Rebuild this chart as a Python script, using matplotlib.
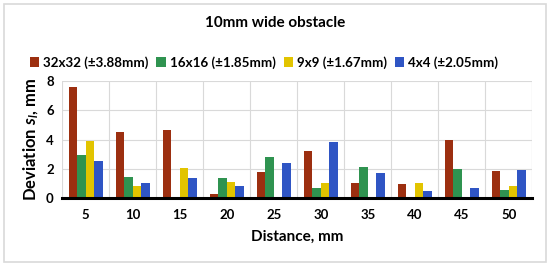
import numpy as np
import matplotlib
matplotlib.use("Agg")
import matplotlib.pyplot as plt
from matplotlib.patches import FancyBboxPatch

plt.rcParams['font.family'] = ['Lato', 'DejaVu Sans']
plt.rcParams['mathtext.fontset'] = 'custom'
plt.rcParams['mathtext.it'] = 'Lato:italic:bold'
plt.rcParams['mathtext.rm'] = 'Lato:bold'

distances = ["5", "10", "15", "20", "25", "30", "35", "40", "45", "50"]
series_names = ["32x32 (±3.88mm)", "16x16 (±1.85mm)", "9x9 (±1.67mm)", "4x4 (±2.05mm)"]
s32 = [7.59, 4.52, 4.69, 0.26, 1.76, 3.20, 1.07, 0.97, 3.99, 1.86]
s16 = [2.92, 1.48, 0.00, 1.37, 2.81, 0.67, 2.13, 0.00, 2.02, 0.56]
s9 = [3.90, 0.86, 2.06, 1.09, 0.00, 1.07, 0.00, 1.07, 0.00, 0.84]
s4 = [2.53, 1.02, 1.39, 0.81, 2.37, 3.85, 1.69, 0.49, 0.67, 1.93]
colors = ["#9C2F10", "#2F9350", "#E2C400", "#2F55C4"]

fig = plt.figure(figsize=(5.5, 2.66), dpi=100)
# light border box like the original export
fig.patches.append(FancyBboxPatch((0.008, 0.015), 0.984, 0.97, boxstyle="square,pad=0",
                                  transform=fig.transFigure, fill=False,
                                  edgecolor="#d9d9d9", linewidth=1.2))

ax = fig.add_axes([0.113, 0.255, 0.855, 0.44])
x = np.arange(len(distances))
w = 0.18
for i, (vals, name) in enumerate(zip([s32, s16, s9, s4], series_names)):
    ax.bar(x + (i - 1.5) * w, vals, w, color=colors[i], label=name, zorder=3)

ax.set_xlim(-0.5, len(distances) - 0.5)
ax.set_ylim(0, 8)
ax.set_yticks([0, 2, 4, 6, 8])
ax.set_xticks(x)
ax.set_xticklabels(distances)
ax.set_xticks(np.arange(-0.5, len(distances), 1), minor=True)
ax.tick_params(axis='x', which='both', length=0, pad=8)
ax.tick_params(axis='y', length=0, pad=6)
for lbl in ax.get_xticklabels() + ax.get_yticklabels():
    lbl.set_fontweight('bold')
    lbl.set_fontsize(9.5)
ax.grid(True, axis='y', color="#d9d9d9", linewidth=0.8, zorder=0)
ax.grid(True, axis='x', which='minor', color="#d9d9d9", linewidth=0.8, zorder=0)
ax.grid(False, axis='x', which='major')
for s in ['top', 'right', 'left']:
    ax.spines[s].set_visible(False)
ax.spines['bottom'].set_linewidth(2.2)
ax.spines['bottom'].set_zorder(4)
ax.axvline(len(distances) - 0.5, color="#d9d9d9", linewidth=0.8, zorder=0)

ax.set_ylabel("Deviation $s_l$, mm", fontsize=12, fontweight='bold', labelpad=4)
ax.set_xlabel("Distance, mm", fontsize=11, fontweight='bold', labelpad=6)

fig.text(0.5, 0.915, "10mm wide obstacle", ha='center', va='center', fontsize=11, fontweight='bold')
leg = fig.legend(loc='center', bbox_to_anchor=(0.48, 0.765), ncol=4, frameon=False,
                 handlelength=0.7, handleheight=0.7, handletextpad=0.3, columnspacing=0.6,
                 prop={'weight': 'bold', 'size': 9.6})

fig.savefig("out.png", dpi=100)
